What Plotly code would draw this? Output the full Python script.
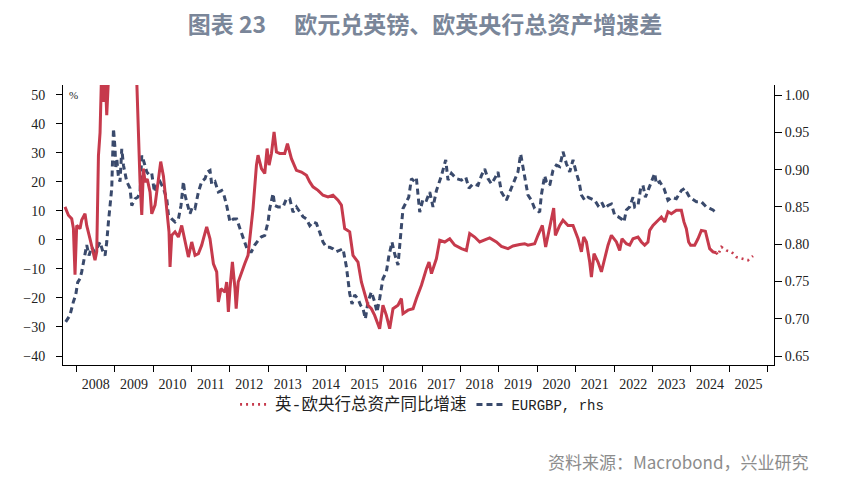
import datetime as dt
import plotly.graph_objects as go

# ---------------- data ----------------
# dates as decimal years
red_t = [2007.703, 2007.792, 2007.878, 2007.922, 2007.964, 2008.008, 2008.094, 2008.138, 2008.224, 2008.268,
         2008.354, 2008.443, 2008.484, 2008.529, 2008.573, 2008.615, 2008.659, 2008.703, 2008.745, 2008.789,
         2008.833, 2008.919, 2009.023, 2009.128, 2009.232, 2009.336, 2009.440, 2009.518, 2009.570, 2009.615,
         2009.656, 2009.701, 2009.745, 2009.786, 2009.844, 2009.917, 2009.961, 2010.047, 2010.135, 2010.195,
         2010.266, 2010.352, 2010.411, 2010.438, 2010.482, 2010.568, 2010.656, 2010.742, 2010.828, 2010.917,
         2011.003, 2011.089, 2011.177, 2011.263, 2011.307, 2011.393, 2011.479, 2011.568, 2011.654, 2011.698,
         2011.766, 2011.870, 2011.914, 2011.958, 2012.000, 2012.063, 2012.130, 2012.161, 2012.214, 2012.297,
         2012.383, 2012.469, 2012.557, 2012.599, 2012.688, 2012.729, 2012.818, 2012.904, 2012.964, 2013.016,
         2013.078, 2013.146, 2013.208, 2013.294, 2013.424, 2013.495, 2013.599, 2013.729, 2013.859, 2013.990,
         2014.076, 2014.161, 2014.292, 2014.422, 2014.552, 2014.682, 2014.813, 2014.901, 2014.987, 2015.117,
         2015.203, 2015.333, 2015.422, 2015.508, 2015.594, 2015.682, 2015.768, 2015.898, 2015.984, 2016.073,
         2016.159, 2016.245, 2016.375, 2016.464, 2016.505, 2016.635, 2016.766, 2016.854, 2016.984, 2017.115,
         2017.182, 2017.245, 2017.375, 2017.461, 2017.591, 2017.721, 2017.852, 2018.026, 2018.156, 2018.242,
         2018.372, 2018.503, 2018.763, 2018.938, 2019.068, 2019.240, 2019.370, 2019.544, 2019.674, 2019.760,
         2019.935, 2020.021, 2020.135, 2020.221, 2020.326, 2020.430, 2020.474, 2020.586, 2020.672, 2020.802,
         2020.932, 2021.063, 2021.151, 2021.211, 2021.281, 2021.367, 2021.411, 2021.479, 2021.583, 2021.672,
         2021.758, 2021.844, 2021.932, 2022.063, 2022.148, 2022.208, 2022.323, 2022.409, 2022.495, 2022.625,
         2022.714, 2022.799, 2022.885, 2022.930, 2023.016, 2023.146, 2023.234, 2023.320, 2023.406, 2023.495,
         2023.625, 2023.755, 2023.823, 2023.885, 2023.945, 2023.997, 2024.102, 2024.188, 2024.276, 2024.380,
         2024.448, 2024.492, 2024.578, 2024.667]
red_v = [11.4, 8.5, 7.3, 4.0, -12.0, 5.0, 3.9, 6.9, 9.0, 5.0,
         0.4, -5.0, -7.0, -4.0, 29.0, 37.0, 60.0, 47.6, 58.0, 43.0,
         62.0, 80.0, 95.0, 105.0, 100.0, 90.0, 80.0, 68.0, 55.0, 31.5,
         20.0, 8.6, 24.6, 20.0, 21.0, 16.5, 9.0, 12.0, 20.0, 27.0,
         22.0, 10.8, 2.8, -9.3, 1.6, 2.8, 1.0, 5.0, -0.7, -5.9,
         -0.7, -5.3, -4.7, -1.8, 0.4, 4.5, 0.4, -8.2, -11.0, -21.4,
         -16.8, -18.0, -14.5, -24.8, -16.8, -7.6, -16.8, -23.7, -14.5, -11.0,
         -8.2, -5.3, 5.0, 10.8, 25.8, 29.2, 24.6, 22.9, 31.5, 25.8,
         29.8, 37.2, 30.3, 29.8, 29.8, 33.2, 28.0, 24.0, 23.4, 22.3,
         20.0, 18.3, 17.1, 15.4, 14.8, 15.4, 13.7, 12.0, 3.9, 2.8,
         -5.3, -7.6, -14.5, -19.0, -22.5, -23.7, -26.0, -30.6, -22.5, -26.0,
         -30.6, -23.7, -22.5, -20.2, -25.4, -24.2, -23.7, -20.2, -15.6, -9.9,
         -7.6, -11.6, -6.4, -0.1, -0.7, 0.4, -1.8, -3.0, -3.6, 2.2,
         1.0, -0.7, 0.7, -0.7, -2.2, -3.0, -2.1, -1.6, -1.3, -1.8,
         -1.3, 1.6, 5.0, -2.4, 5.0, 11.0, 1.6, 5.0, 6.8, 5.0,
         5.0, 0.4, -4.1, 1.0, -0.7, -7.6, -12.8, -4.7, -7.6, -11.0,
         -6.4, -1.8, 1.6, -0.7, -3.6, 0.4, -1.3, -1.8, 0.4, 1.0,
         -0.7, -1.8, -0.7, 3.3, 5.0, 6.8, 7.9, 6.2, 9.7, 9.0,
         10.2, 10.2, 6.2, 3.9, -0.7, -1.8, -1.8, 0.4, 3.3, 3.0,
         -0.7, -3.0, -4.1, -4.4]

fc_t = [2024.667, 2024.708, 2024.797, 2024.927, 2025.057, 2025.188, 2025.318, 2025.490, 2025.620]
fc_v = [-4.4, -5.3, -2.4, -3.6, -4.1, -5.9, -6.4, -7.0, -5.5]

eur_t = [2007.721, 2007.833, 2007.922, 2007.982, 2008.034, 2008.094, 2008.138, 2008.208, 2008.268, 2008.328,
         2008.398, 2008.469, 2008.529, 2008.615, 2008.677, 2008.745, 2008.789, 2008.833, 2008.875, 2008.919,
         2008.938, 2008.964, 2009.005, 2009.023, 2009.049, 2009.094, 2009.135, 2009.180, 2009.224, 2009.266,
         2009.310, 2009.396, 2009.440, 2009.526, 2009.596, 2009.656, 2009.701, 2009.760, 2009.831, 2009.891,
         2009.961, 2010.031, 2010.091, 2010.177, 2010.266, 2010.352, 2010.396, 2010.482, 2010.568, 2010.656,
         2010.724, 2010.786, 2010.828, 2010.898, 2010.958, 2011.021, 2011.089, 2011.177, 2011.263, 2011.349,
         2011.411, 2011.479, 2011.523, 2011.609, 2011.698, 2011.784, 2011.844, 2011.914, 2012.000, 2012.089,
         2012.174, 2012.260, 2012.383, 2012.469, 2012.557, 2012.643, 2012.729, 2012.818, 2012.904, 2012.990,
         2013.034, 2013.120, 2013.164, 2013.250, 2013.380, 2013.469, 2013.555, 2013.641, 2013.729, 2013.815,
         2013.901, 2013.990, 2014.076, 2014.161, 2014.250, 2014.336, 2014.422, 2014.510, 2014.596, 2014.682,
         2014.771, 2014.857, 2014.943, 2015.031, 2015.073, 2015.117, 2015.177, 2015.247, 2015.333, 2015.404,
         2015.464, 2015.526, 2015.594, 2015.682, 2015.768, 2015.828, 2015.898, 2015.984, 2016.073, 2016.133,
         2016.219, 2016.289, 2016.375, 2016.445, 2016.505, 2016.594, 2016.654, 2016.724, 2016.810, 2016.854,
         2016.940, 2017.026, 2017.115, 2017.201, 2017.286, 2017.375, 2017.505, 2017.617, 2017.677, 2017.766,
         2017.896, 2018.026, 2018.138, 2018.224, 2018.328, 2018.458, 2018.547, 2018.633, 2018.719, 2018.807,
         2018.893, 2018.979, 2019.068, 2019.198, 2019.328, 2019.414, 2019.500, 2019.570, 2019.615, 2019.674,
         2019.760, 2019.849, 2019.935, 2020.065, 2020.109, 2020.195, 2020.240, 2020.326, 2020.411, 2020.500,
         2020.586, 2020.672, 2020.760, 2020.846, 2020.932, 2021.021, 2021.089, 2021.151, 2021.237, 2021.323,
         2021.410, 2021.497, 2021.583, 2021.672, 2021.758, 2021.844, 2021.932, 2022.018, 2022.104, 2022.193,
         2022.260, 2022.323, 2022.409, 2022.495, 2022.539, 2022.625, 2022.695, 2022.755, 2022.818, 2022.885,
         2022.974, 2023.060, 2023.104, 2023.190, 2023.302, 2023.406, 2023.510, 2023.625, 2023.755, 2023.841,
         2023.971, 2024.146, 2024.276, 2024.406, 2024.492, 2024.578, 2024.693]
eur_v = [0.696, 0.705, 0.723, 0.732, 0.749, 0.754, 0.763, 0.781, 0.799, 0.785,
         0.796, 0.790, 0.794, 0.803, 0.792, 0.785, 0.803, 0.830, 0.852, 0.875,
         0.910, 0.955, 0.928, 0.901, 0.915, 0.890, 0.884, 0.928, 0.906, 0.897,
         0.884, 0.875, 0.852, 0.861, 0.863, 0.870, 0.919, 0.910, 0.897, 0.893,
         0.895, 0.870, 0.879, 0.884, 0.875, 0.861, 0.839, 0.834, 0.830, 0.834,
         0.852, 0.884, 0.866, 0.852, 0.841, 0.850, 0.848, 0.870, 0.884, 0.888,
         0.897, 0.899, 0.881, 0.884, 0.870, 0.872, 0.866, 0.852, 0.830, 0.834,
         0.834, 0.821, 0.803, 0.790, 0.790, 0.799, 0.805, 0.810, 0.812, 0.830,
         0.848, 0.868, 0.852, 0.850, 0.850, 0.861, 0.861, 0.843, 0.850, 0.843,
         0.837, 0.834, 0.825, 0.830, 0.828, 0.816, 0.803, 0.796, 0.796, 0.794,
         0.790, 0.792, 0.794, 0.770, 0.752, 0.734, 0.720, 0.732, 0.727, 0.718,
         0.714, 0.700, 0.723, 0.736, 0.723, 0.709, 0.727, 0.754, 0.763, 0.783,
         0.803, 0.787, 0.772, 0.808, 0.848, 0.857, 0.863, 0.888, 0.884, 0.888,
         0.843, 0.861, 0.859, 0.870, 0.850, 0.872, 0.892, 0.913, 0.886, 0.895,
         0.888, 0.886, 0.890, 0.875, 0.881, 0.879, 0.892, 0.901, 0.888, 0.881,
         0.888, 0.897, 0.870, 0.859, 0.875, 0.884, 0.897, 0.921, 0.908, 0.888,
         0.866, 0.859, 0.848, 0.843, 0.866, 0.892, 0.884, 0.879, 0.899, 0.906,
         0.904, 0.924, 0.908, 0.897, 0.913, 0.895, 0.884, 0.866, 0.859, 0.863,
         0.861, 0.859, 0.852, 0.857, 0.848, 0.852, 0.854, 0.839, 0.837, 0.834,
         0.830, 0.846, 0.850, 0.863, 0.850, 0.852, 0.875, 0.879, 0.863, 0.872,
         0.884, 0.895, 0.881, 0.884, 0.875, 0.859, 0.863, 0.861, 0.872, 0.875,
         0.863, 0.857, 0.857, 0.850, 0.848, 0.846, 0.841]

left_ticks = [50, 40, 30, 20, 10, 0, -10, -20, -30, -40]
right_ticks = [1.00, 0.95, 0.90, 0.85, 0.80, 0.75, 0.70, 0.65]

TITLE = "图表 23\u2003 欧元兑英镑、欧英央行总资产增速差"
SOURCE = "资料来源：Macrobond，兴业研究"
NAME_RED = "英-欧央行总资产同比增速"
NAME_EUR = "EURGBP, rhs"

RED = "#c63a4c"
NAVY = "#3a4a6c"


def to_date(y):
    yr = int(y)
    start = dt.datetime(yr, 1, 1)
    days = (dt.datetime(yr + 1, 1, 1) - start).days
    return start + dt.timedelta(days=(y - yr) * days)


fig = go.Figure()

fig.add_trace(go.Scatter(x=[to_date(t) for t in eur_t], y=eur_v, mode="lines",
                         name=NAME_EUR, yaxis="y",
                         line=dict(color=NAVY, width=3, dash="6px,4px")))
fig.add_trace(go.Scatter(x=[to_date(t) for t in red_t], y=red_v, mode="lines",
                         name=NAME_RED, yaxis="y2", showlegend=False,
                         line=dict(color=RED, width=3)))
fig.add_trace(go.Scatter(x=[to_date(t) for t in fc_t], y=fc_v, mode="lines",
                         name='<span style="font-size:16.5px">' + NAME_RED + '</span>',
                         yaxis="y2", showlegend=True,
                         line=dict(color=RED, width=2.6, dash="2px,4px")))

tickfont = dict(family="Liberation Serif, serif", size=14, color="#222222")

fig.update_layout(
    width=845, height=477,
    margin=dict(l=63, r=71, t=85, b=112),
    plot_bgcolor="white", paper_bgcolor="white",
    showlegend=True,
    legend=dict(orientation="h", x=0.505, xanchor="center", y=-0.085, yanchor="top",
                font=dict(family="Liberation Mono, Noto Sans CJK SC", size=14, color="#222222"),
                traceorder="reversed", itemwidth=30, bgcolor="rgba(0,0,0,0)"),
    xaxis=dict(type="date",
               range=[to_date(2007.651), to_date(2026.167)],
               dtick="M12", tick0="2008-01-01", tickformat="%Y", ticklabelmode="period",
               ticks="outside", ticklen=6, tickcolor="#000", tickwidth=1,
               showline=True, linecolor="#000", linewidth=1,
               showgrid=False, zeroline=False, tickfont=tickfont),
    yaxis=dict(side="right", range=[0.6382, 1.0135],
               tickvals=right_ticks, ticktext=[f"{v:.2f}" for v in right_ticks],
               ticks="outside", ticklen=7, tickcolor="#000", showline=True,
               linecolor="#000", linewidth=1, showgrid=False, zeroline=False,
               tickfont=tickfont),
    yaxis2=dict(side="left", overlaying="y", range=[-43.1, 53.4],
                tickvals=left_ticks, ticks="outside", ticklen=6, tickcolor="#000",
                showline=True, linecolor="#000", linewidth=1, showgrid=False,
                zeroline=False, tickfont=tickfont, ticklabelstandoff=8),
    title=dict(text=TITLE, x=0.503, xanchor="center", y=1 - 25 / 477, yref="container",
               yanchor="middle",
               font=dict(family="Noto Sans CJK SC", size=23, color="#7a8699", weight="bold")),
    annotations=[
        dict(text="%", xref="paper", yref="paper", x=0.006, y=0.966, xanchor="left",
             yanchor="middle", showarrow=False,
             font=dict(family="Liberation Serif", size=11, color="#222")),
        dict(text=SOURCE, xref="paper", yref="paper", x=1.051, y=-0.346, xanchor="right",
             yanchor="middle", showarrow=False,
             font=dict(family="Noto Sans CJK SC", size=17, color="#8c8c8c")),
    ],
)

fig.write_html("out.html", config={"displayModeBar": False},
               post_script="document.body.style.margin='0';document.body.style.overflow='hidden';")
